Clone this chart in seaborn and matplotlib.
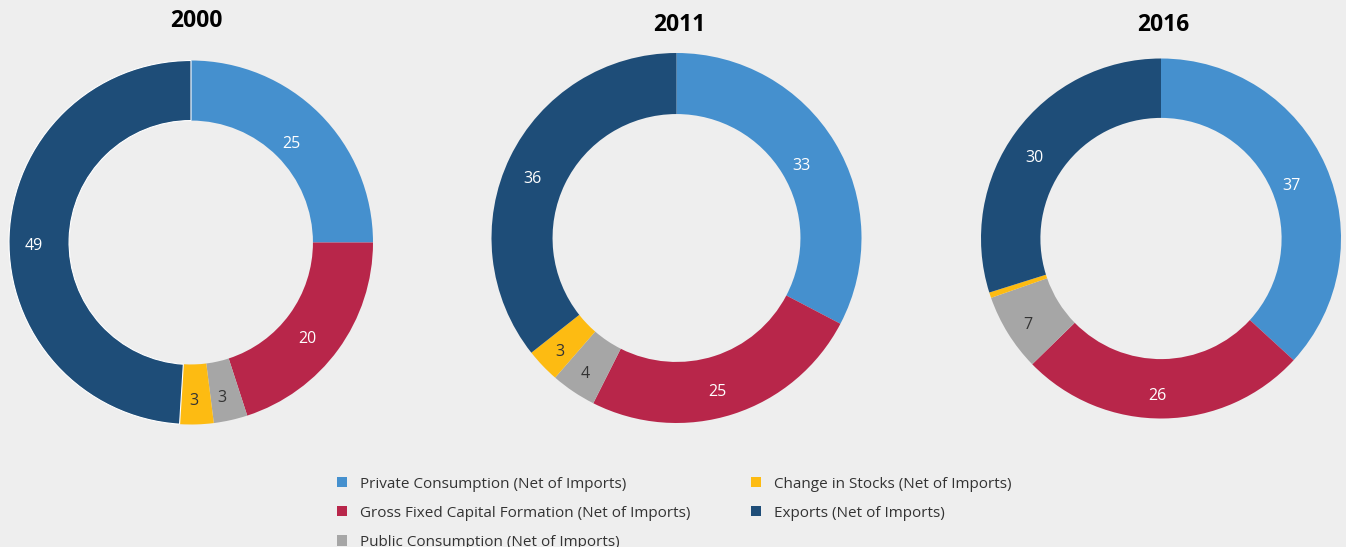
import matplotlib
matplotlib.use("Agg")
import matplotlib.pyplot as plt
import seaborn as sns
import numpy as np
from matplotlib.patches import Patch

sns.set_theme(style="white")
plt.rcParams["font.family"] = ["Open Sans", "DejaVu Sans"]

# GDP demand components, share in percent
categories = [
    "Private Consumption (Net of Imports)",
    "Gross Fixed Capital Formation (Net of Imports)",
    "Public Consumption (Net of Imports)",
    "Change in Stocks (Net of Imports)",
    "Exports (Net of Imports)",
]
years = ["2000", "2011", "2016"]
shares_2000 = [25, 20, 3, 3, 49]
shares_2011 = [33, 25, 4, 3, 36]
shares_2016 = [37, 26, 7, 0.5, 30]
shares = [shares_2000, shares_2011, shares_2016]

colors = ["#4590CE", "#B8264A", "#A6A6A6", "#FDBB12", "#1E4D78"]
text_colors = ["white", "white", "#333333", "#333333", "white"]
bg = "#EEEEEE"

W, H = 1346, 547
fig = plt.figure(figsize=(W / 100, H / 100), dpi=100, facecolor=bg)

# (center x, center y, radius) in pixels for each donut
layout = [(191, 242.5, 182), (676.5, 238, 185), (1161, 238.5, 180)]
title_pos = [(196, 21), (679, 25), (1163, 25)]

for year, vals, (cx, cy, r), (tx, ty) in zip(years, shares, layout, title_pos):
    ax = fig.add_axes([(cx - r) / W, (H - cy - r) / H, 2 * r / W, 2 * r / H])
    ax.set_facecolor(bg)
    wedges, _ = ax.pie(
        vals, colors=colors, startangle=90, counterclock=False,
        radius=1, wedgeprops=dict(width=0.33, linewidth=0),
    )
    if year == "2000":
        wedges[-1].set_edgecolor("white")
        wedges[-1].set_linewidth(0.8)
    ax.set_xlim(-1, 1)
    ax.set_ylim(-1, 1)
    ax.set_aspect("equal")
    ax.axis("off")
    for w, v, tc in zip(wedges, vals, text_colors):
        if v < 1:
            continue
        ang = np.deg2rad((w.theta1 + w.theta2) / 2)
        dx = -6 if (v >= 10 or year != "2000") else -2
        ax.annotate(f"{v:g}", xy=(0.83 * np.cos(ang), 0.83 * np.sin(ang)),
                    xytext=(dx, -8), textcoords="offset pixels",
                    ha="center", va="center", fontsize=11.5, color=tc)
    fig.text(tx / W, 1 - ty / H, year, ha="center", va="center",
             fontsize=16.5, fontweight="bold", color="black")

handles = [Patch(facecolor=c, edgecolor="none") for c in colors]
fig.legend(
    handles, categories,
    loc="upper left", bbox_to_anchor=(337 / W, 1 - 476.5 / H),
    ncol=2, frameon=False, fontsize=11, labelcolor="#333333",
    handlelength=0.65, handleheight=0.65, handletextpad=0.85,
    labelspacing=0.93, columnspacing=3.95, borderpad=0, borderaxespad=0,
)

fig.savefig("out.png", dpi=100, facecolor=bg)
